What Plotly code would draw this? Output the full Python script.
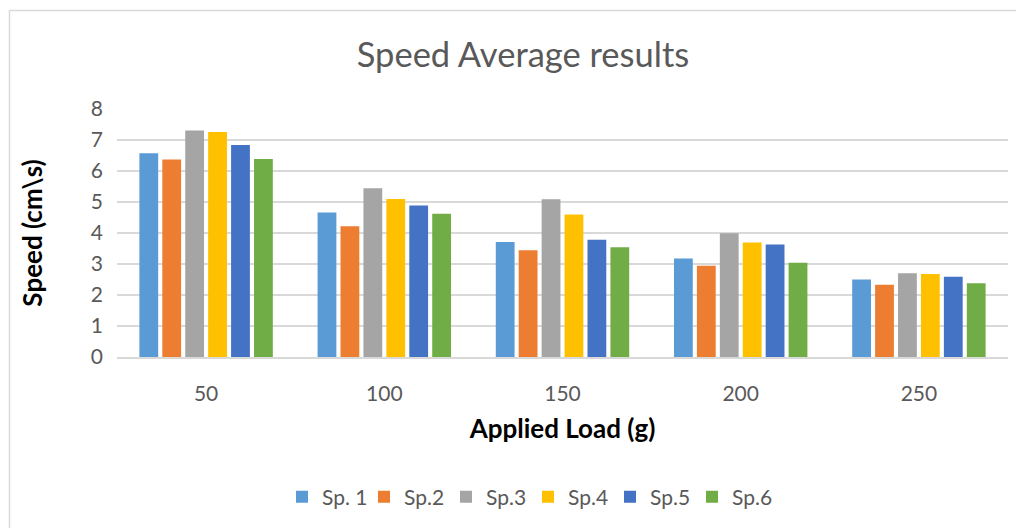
import plotly.graph_objects as go

loads = ["50", "100", "150", "200", "250"]
series_names = ["Sp. 1", "Sp.2", "Sp.3", "Sp.4", "Sp.5", "Sp.6"]
sp1 = [6.57, 4.66, 3.71, 3.18, 2.50]
sp2 = [6.37, 4.22, 3.44, 2.94, 2.33]
sp3 = [7.31, 5.44, 5.09, 3.99, 2.70]
sp4 = [7.26, 5.10, 4.60, 3.69, 2.68]
sp5 = [6.84, 4.89, 3.78, 3.63, 2.59]
sp6 = [6.39, 4.62, 3.54, 3.04, 2.38]
colors = ["#5B9BD5", "#ED7D31", "#A5A5A5", "#FFC000", "#4472C4", "#70AD47"]

FONT = "Lato"
GRAY = "#595959"

# page offset from default HTML body margin
OFF = 8
W, H = 1024 - OFF, 528 - OFF
L = 117 - OFF
T = 109 - OFF
R = 16
B = 528 - 357
pw, ph = W - L - R, H - T - B


def px_x(page_x):
    return (page_x - OFF - L) / pw


def px_y(page_y):
    return 1 - (page_y - OFF - T) / ph


fig = go.Figure()
for name, vals, col in zip(series_names, [sp1, sp2, sp3, sp4, sp5, sp6], colors):
    fig.add_trace(go.Bar(x=loads, y=vals, name=name, marker=dict(color=col, line=dict(width=0))))

bx = px_x(9.5)
by = px_y(10.5)
fig.add_shape(type="line", xref="paper", yref="paper", x0=bx, x1=bx, y0=-3, y1=by,
              line=dict(color="#d9d9d9", width=1.5))
fig.add_shape(type="line", xref="paper", yref="paper", x0=bx, x1=3, y0=by, y1=by,
              line=dict(color="#d9d9d9", width=1.5))

fig.update_layout(
    width=W, height=H,
    margin=dict(l=L, r=R, t=T, b=B, autoexpand=False),
    paper_bgcolor="white", plot_bgcolor="white",
    barmode="group", bargap=0.228, bargroupgap=0.18,
    font=dict(family=FONT, color=GRAY),
    title=dict(text="Speed Average results", x=(523 - OFF) / W, xanchor="center",
               y=1 - (55 - OFF) / H, yanchor="middle", yref="container",
               font=dict(size=34.5, color=GRAY, family=FONT)),
    legend=dict(orientation="h", x=px_x(528), xanchor="center",
                y=px_y(497), yanchor="middle",
                font=dict(size=21, color=GRAY, family=FONT),
                traceorder="normal", entrywidth=37, entrywidthmode="pixels"),
    showlegend=True,
)

fig.update_xaxes(
    showgrid=False, showline=True, linecolor="#d9d9d9", linewidth=1.5,
    ticks="", tickfont=dict(size=21, color=GRAY, family=FONT),
    ticklabelstandoff=17,
    title=dict(text="<b>Applied Load (g)</b>", standoff=16,
               font=dict(size=26, color="black", family=FONT)),
)
fig.update_yaxes(
    range=[0, 8], dtick=1, showgrid=True, gridcolor="#d9d9d9", gridwidth=1.5,
    zeroline=False, showline=False, ticks="",
    tickfont=dict(size=21, color=GRAY, family=FONT), ticklabelstandoff=13,
    title=dict(text="<b>Speed (cm\\s)</b>", standoff=40,
               font=dict(size=26, color="black", family=FONT)),
)

fig.write_html("out.html")
